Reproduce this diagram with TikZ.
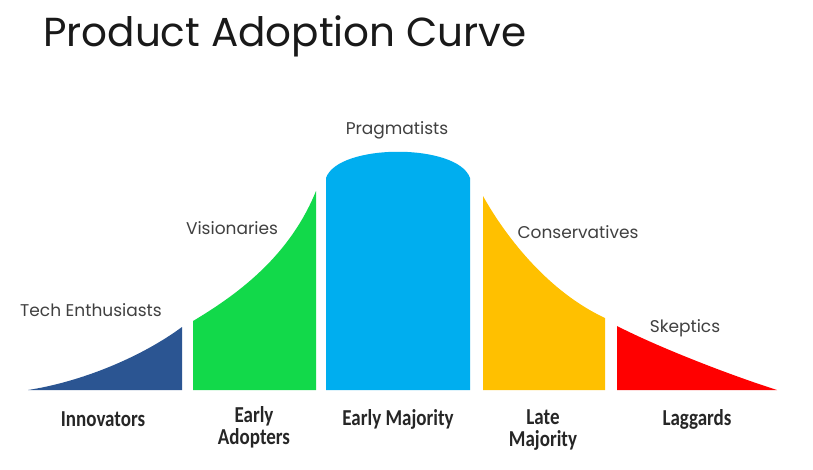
\documentclass[tikz,border=0pt]{standalone}
\usepackage{fontspec}
\usepackage{graphicx}
\newfontfamily\titlefont{Poppins}
\newfontfamily\labfont{Carlito}
\definecolor{cinno}{HTML}{2B5592}
\definecolor{cearly}{HTML}{12D94A}
\definecolor{cmaj}{HTML}{00AEEF}
\definecolor{clate}{HTML}{FFC000}
\definecolor{clag}{HTML}{FF0000}
\definecolor{ctext}{HTML}{404040}
\definecolor{cbold}{HTML}{262626}
\newcommand\vstretch[1]{\scalebox{1}[1.2]{#1}}
\tikzset{
  upper/.style={font=\titlefont\fontsize{17}{20}\selectfont, text=ctext, inner sep=0pt},
  lower/.style={font=\labfont\bfseries\fontsize{19}{22}\selectfont, text=cbold, inner sep=0pt, align=center},
}
\begin{document}
\begin{tikzpicture}[x=1pt,y=-1pt]
\useasboundingbox[fill=white] (0,0) rectangle (813,469);
\node[anchor=base west, inner sep=0pt, text=black!90, font=\titlefont\fontsize{40.5}{44}\selectfont] (title) at (43,46) {Product Adoption Curve};
% segments
\fill[cinno] (28,390) .. controls (80,382) and (140,358) .. (182,327) -- (182,390) -- cycle;
\fill[cearly] (193,390) -- (193,321) .. controls (240,293) and (290,255) .. (316,191) -- (316,390) -- cycle;
\fill[cmaj] (326,390) -- (326,178) .. controls (338,143) and (458,143) .. (470,178) -- (470,390) -- cycle;
\fill[clate] (483,390) -- (483,196) .. controls (503,232) and (545,290) .. (605,318) -- (605,390) -- cycle;
\fill[clag] (617,390) -- (617,326) .. controls (660,348) and (730,375) .. (777,390) -- cycle;
% upper labels
\node[upper] (tech) at (91,310) {Tech Enthusiasts};
\node[upper] (vis) at (232,228) {Visionaries};
\node[upper] (prag) at (397,130) {Pragmatists};
\node[upper] (cons) at (578,232) {Conservatives};
\node[upper] (skep) at (685,328) {Skeptics};
% lower labels
\node[lower] (inno) at (103,419) {\vstretch{Innovators}};
\node[lower] (eadopt) at (254,427) {\vstretch{Early}\\\vstretch{Adopters}};
\node[lower] (emaj) at (398,419) {\vstretch{Early Majority}};
\node[lower] (lmaj) at (543,430) {\vstretch{Late}\\\vstretch{Majority}};
\node[lower] (lag) at (697,419) {\vstretch{Laggards}};
\end{tikzpicture}
\end{document}
